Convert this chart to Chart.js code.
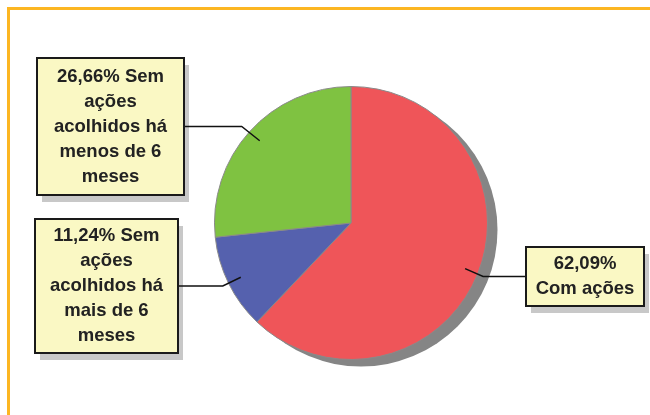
<!DOCTYPE html>
<html>
<head>
<meta charset="utf-8">
<script src="https://cdn.jsdelivr.net/npm/chart.js@4.4.1/dist/chart.umd.min.js"></script>
<style>
    html, body { margin: 0; padding: 0; background: #ffffff; }
    #wrap { position: relative; width: 650px; height: 415px; }
</style>
</head>
<body>
<div id="wrap"><canvas id="piechart" width="650" height="415"></canvas></div>
<script>
"use strict";

/* data */
var categories = ['Com ações', 'Sem ações acolhidos há mais de 6 meses', 'Sem ações acolhidos há menos de 6 meses'];
var shares = [62.09, 11.24, 26.66];
var sliceColors = ['#ef5559', '#5561ae', '#7fc241'];
var boxLines = [
    ['62,09%', 'Com ações'],
    ['11,24% Sem', 'ações', 'acolhidos há', 'mais de 6', 'meses'],
    ['26,66% Sem', 'ações', 'acolhidos há', 'menos de 6', 'meses']
];

/* callout boxes (layout only) */
var boxes = [
    { x: 526, y: 247, w: 118, h: 59, side: 'right' },
    { x: 35, y: 219, w: 143, h: 134, side: 'left' },
    { x: 37, y: 58, w: 147, h: 137, side: 'left' }
];

/* frame + pie shadow */
var framePlugin = {
    id: 'frame',
    beforeDraw: function (chart) {
        var ctx = chart.ctx;
        ctx.save();
        ctx.strokeStyle = '#fcb622';
        ctx.lineWidth = 3;
        ctx.beginPath();
        ctx.moveTo(7, 8.5);
        ctx.lineTo(650, 8.5);
        ctx.moveTo(8.5, 7);
        ctx.lineTo(8.5, 415);
        ctx.stroke();
        ctx.restore();
    },
    beforeDatasetsDraw: function (chart) {
        var arc = chart.getDatasetMeta(0).data[0];
        if (!arc) return;
        var ctx = chart.ctx;
        ctx.save();
        ctx.fillStyle = '#858585';
        ctx.beginPath();
        ctx.arc(arc.x + 10, arc.y + 7, arc.outerRadius, 0, Math.PI * 2);
        ctx.fill();
        ctx.restore();
    }
};

/* callouts with leader lines */
var calloutPlugin = {
    id: 'callouts',
    afterDatasetsDraw: function (chart) {
        var ctx = chart.ctx;
        var meta = chart.getDatasetMeta(0);
        ctx.save();

        /* box shadows first */
        ctx.fillStyle = '#c8c8c8';
        boxes.forEach(function (b) {
            ctx.fillRect(b.x + 5, b.y + 7, b.w, b.h);
        });

        meta.data.forEach(function (arc, i) {
            var b = boxes[i];
            var mid = (arc.startAngle + arc.endAngle) / 2;
            var ax = arc.x + Math.cos(mid) * arc.outerRadius * 0.9;
            var ay = arc.y + Math.sin(mid) * arc.outerRadius * 0.9;
            var cy = b.y + b.h / 2;
            var ex = b.side === 'left' ? ax - 18 : ax + 18;
            var bx = b.side === 'left' ? b.x + b.w : b.x;

            /* leader */
            ctx.strokeStyle = '#111111';
            ctx.lineWidth = 1.5;
            ctx.beginPath();
            ctx.moveTo(ax, ay);
            ctx.lineTo(ex, cy);
            ctx.lineTo(bx, cy);
            ctx.stroke();

            /* box */
            ctx.fillStyle = '#faf8c4';
            ctx.fillRect(b.x, b.y, b.w, b.h);
            ctx.strokeStyle = '#1a1a1a';
            ctx.lineWidth = 2;
            ctx.strokeRect(b.x, b.y, b.w, b.h);

            /* text */
            var lines = boxLines[i];
            var lh = 25;
            ctx.fillStyle = '#222222';
            ctx.font = 'bold 18.5px "Liberation Sans", Arial, sans-serif';
            ctx.textAlign = 'center';
            ctx.textBaseline = 'middle';
            var y0 = cy - (lines.length - 1) * lh / 2;
            lines.forEach(function (t, k) {
                ctx.fillText(t, b.x + b.w / 2, y0 + k * lh);
            });
        });
        ctx.restore();
    }
};

var piectx = document.getElementById('piechart').getContext('2d');
var piechart = new Chart(piectx, {
    type: 'pie',
    data: {
        labels: categories,
        datasets: [{
            data: shares,
            backgroundColor: sliceColors,
            borderColor: '#8a8a8a',
            borderWidth: 1
        }]
    },
    options: {
        responsive: false,
        animation: false,
        layout: {
            padding: { left: 151, right: 99, top: 86, bottom: 55 }
        },
        plugins: {
            legend: { display: false },
            tooltip: { enabled: false }
        }
    },
    plugins: [framePlugin, calloutPlugin]
});
</script>
</body>
</html>
